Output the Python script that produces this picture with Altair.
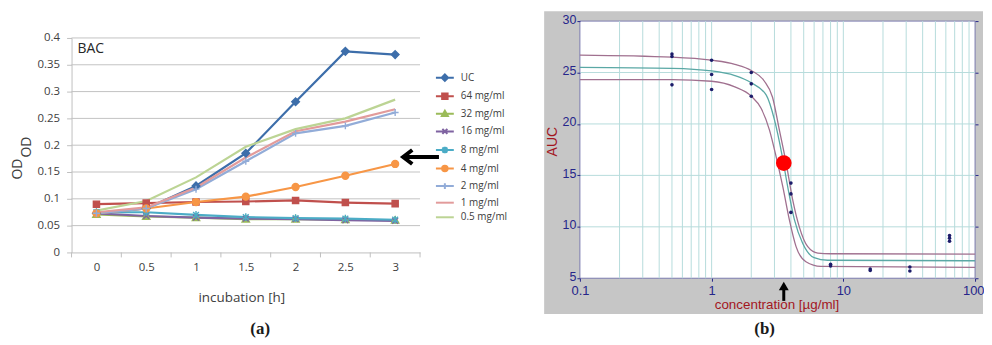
import altair as alt
import pandas as pd

# ---------------- panel (a): growth curves ----------------
hours = [0, 0.5, 1, 1.5, 2, 2.5, 3]
series_names = ["UC", "64 mg/ml", "32 mg/ml", "16 mg/ml", "8 mg/ml",
                "4 mg/ml", "2 mg/ml", "1 mg/ml", "0.5 mg/ml"]
od_uc = [0.073, 0.082, 0.124, 0.185, 0.281, 0.375, 0.369]
od_64 = [0.090, 0.092, 0.094, 0.095, 0.097, 0.093, 0.091]
od_32 = [0.071, 0.067, 0.065, 0.062, 0.062, 0.061, 0.060]
od_16 = [0.073, 0.068, 0.065, 0.063, 0.062, 0.060, 0.059]
od_8 = [0.075, 0.075, 0.070, 0.066, 0.064, 0.063, 0.061]
od_4 = [0.073, 0.082, 0.094, 0.104, 0.122, 0.143, 0.165]
od_2 = [0.073, 0.082, 0.118, 0.170, 0.222, 0.236, 0.261]
od_1 = [0.075, 0.084, 0.121, 0.177, 0.226, 0.244, 0.267]
od_05 = [0.078, 0.096, 0.140, 0.197, 0.230, 0.250, 0.285]
series_values = [od_uc, od_64, od_32, od_16, od_8, od_4, od_2, od_1, od_05]
series_colors = ["#3d6eaa", "#c0504d", "#9bbb59", "#7f63a1", "#4bacc6",
                 "#f79646", "#92acd8", "#e29b9b", "#bcd494"]
od_ticks = [0, 0.05, 0.1, 0.15, 0.2, 0.25, 0.3, 0.35, 0.4]
band_edges = [-0.25, 0.25, 0.75, 1.25, 1.75, 2.25, 2.75, 3.25]

# marker symbols (plot) and line+marker symbols (legend)
marker_paths = [
    "M0,-1L1,0L0,1L-1,0Z",
    "M-0.8,-0.8L0.8,-0.8L0.8,0.8L-0.8,0.8Z",
    "M0,-0.95L0.95,0.75L-0.95,0.75Z",
    "M-0.75,-0.75L0.75,0.75M-0.75,0.75L0.75,-0.75",
    "M-0.75,-0.75L0.75,0.75M-0.75,0.75L0.75,-0.75M0,-1L0,1",
    "M-0.9,0A0.9,0.9,0,1,1,0.9,0A0.9,0.9,0,1,1,-0.9,0Z",
    "M-0.9,0L0.9,0M0,-0.9L0,0.9",
    "M0,0",
    "M0,0",
]
stub = "M-1.8,0L1.8,0"
legend_paths = [
    stub + "M0,-0.65L0.65,0L0,0.65L-0.65,0Z",
    stub + "M-0.55,-0.55L0.55,-0.55L0.55,0.55L-0.55,0.55Z",
    stub + "M0,-0.6L0.6,0.45L-0.6,0.45Z",
    stub + "M-0.5,-0.5L0.5,0.5M-0.5,0.5L0.5,-0.5",
    stub + "M-0.5,-0.5L0.5,0.5M-0.5,0.5L0.5,-0.5M0,-0.65L0,0.65",
    stub + "M-0.55,0A0.55,0.55,0,1,1,0.55,0A0.55,0.55,0,1,1,-0.55,0Z",
    stub + "M-0.6,0L0.6,0M0,-0.6L0,0.6",
    stub,
    stub,
]

# ---------------- panel (b): dose-response ----------------
conc_upper = [0.1, 0.5, 1, 1.5, 2, 2.5, 2.9, 3.27, 3.68, 4.13, 4.63, 5.35, 6.4, 8, 100]
auc_upper = [26.7, 26.5, 26.2, 25.8, 25.2, 24.2, 22.6, 19.4, 16.2, 12.6, 10.0, 8.1, 7.45, 7.38, 7.35]
conc_mid = [0.1, 0.5, 1, 1.5, 2, 2.6, 3.0, 3.41, 3.78, 4.25, 4.91, 6.0, 7.6, 100]
auc_mid = [25.5, 25.4, 25.15, 24.7, 24.0, 22.8, 20.4, 17.1, 13.9, 10.7, 8.4, 7.0, 6.75, 6.7]
conc_low = [0.1, 0.5, 1, 1.5, 2, 2.38, 2.75, 3.09, 3.47, 3.89, 4.37, 5.2, 6.75, 100]
auc_low = [24.3, 24.3, 24.15, 23.6, 22.7, 21.5, 19.4, 16.8, 13.9, 10.7, 8.1, 6.6, 6.15, 6.05]
curve_names = ["upper", "middle", "lower"]
curve_colors = ["#a0708f", "#5aa8a5", "#a0708f"]

dot_conc = [0.5, 0.5, 0.5, 1, 1, 1, 2, 2, 2, 4, 4, 4, 8, 8, 16, 16, 32, 32, 64, 64, 64]
dot_auc = [26.8, 26.55, 23.8, 26.2, 24.8, 23.35, 25.0, 23.9, 22.7, 14.25, 13.2, 11.4,
           6.35, 6.2, 5.9, 5.75, 6.1, 5.7, 9.15, 8.9, 8.6]
ec50_conc = [3.53]
ec50_auc = [16.2]

conc_grid = [0.2, 0.3, 0.4, 0.5, 0.6, 0.7, 0.8, 0.9, 1, 2, 3, 4, 5, 6, 7, 8, 9,
             10, 20, 30, 40, 50, 60, 70, 80, 90]
auc_grid = [10, 15, 20, 25]
auc_ticks = [5, 10, 15, 20, 25, 30]
conc_ticks = [0.1, 1, 10, 100]

# ---------------- styling ----------------
W1, W2, H = 532, 442, 325
gray_txt = "#404040"
navy = "#25258a"
dark_red = "#a3161e"
grid_b = "#b6dcdc"
FONT_A = "Open Sans"
FONT_B = "Liberation Sans"

# ======== panel (a) ========
rows = []
for name, vals in zip(series_names, series_values):
    for h, v in zip(hours, vals):
        rows.append({"hour": h, "od": v, "series": name})
df_a = pd.DataFrame(rows)

xa = alt.Scale(domain=[-0.25, 3.25], range=[64, 415], nice=False, zero=False)
ya = alt.Scale(domain=[0, 0.4], range=[245, 29], nice=False, zero=False)

XA = alt.Axis(orient="bottom", offset=245 - H, values=hours, format="~g",
              grid=False, ticks=False, tickSize=0, domainColor="#bfbfbf",
              labelPadding=9, labelFont=FONT_A, labelFontSize=11.5, labelColor=gray_txt,
              title="incubation [h]", titleFont=FONT_A, titleFontSize=13.5,
              titleFontWeight="normal", titleColor=gray_txt, titleX=235, titleY=45,
              titleAlign="center", titleBaseline="middle")
YA = alt.Axis(orient="left", offset=-64, values=od_ticks, format="~g", grid=False,
              tickSize=5, tickColor="#bfbfbf", domainColor="#bfbfbf", labelPadding=7,
              labelFont=FONT_A, labelFontSize=11.5, labelColor=gray_txt, title=None)


def sc(rng):
    return alt.Scale(domain=series_names, range=rng)


grid_a = alt.Chart(pd.DataFrame({"g": od_ticks[1:]})).mark_rule(color="#c3c3c3").encode(
    y=alt.Y("g:Q", scale=ya, axis=YA),
    x=alt.XDatum(-0.25, scale=xa, axis=XA), x2=alt.X2Datum(3.25))

ticks_a = alt.Chart(pd.DataFrame({"e": band_edges})).mark_rule(color="#bfbfbf").encode(
    x=alt.X("e:Q", scale=xa, axis=XA),
    y=alt.YDatum(0, scale=ya, axis=YA), y2=alt.value(250))

lines_a = alt.Chart(df_a).mark_line(strokeWidth=2.2).encode(
    x=alt.X("hour:Q", scale=xa, axis=XA),
    y=alt.Y("od:Q", scale=ya, axis=YA),
    color=alt.Color("series:N", scale=sc(series_colors), legend=None))

points_a = alt.Chart(df_a).mark_point(filled=True, size=60, strokeWidth=1.4, opacity=1).encode(
    x=alt.X("hour:Q", scale=xa, axis=XA),
    y=alt.Y("od:Q", scale=ya, axis=YA),
    fill=alt.Fill("series:N", scale=sc(series_colors), legend=None),
    stroke=alt.Stroke("series:N", scale=sc(series_colors), legend=None),
    shape=alt.Shape("series:N", scale=sc(marker_paths), legend=None))

leg = alt.Legend(orient="none", legendX=430, legendY=63, title=None, labelFont=FONT_A,
                 labelFontSize=10, labelColor=gray_txt, symbolSize=100, symbolStrokeWidth=2,
                 rowPadding=3.7, labelOffset=10, symbolOffset=4, symbolOpacity=1)
legend_a = alt.Chart(df_a).transform_filter("false").mark_point(filled=True, opacity=1).encode(
    x=alt.X("hour:Q", scale=xa, axis=XA),
    y=alt.Y("od:Q", scale=ya, axis=YA),
    fill=alt.Fill("series:N", scale=sc(series_colors), legend=leg),
    stroke=alt.Stroke("series:N", scale=sc(series_colors), legend=leg),
    shape=alt.Shape("series:N", scale=sc(legend_paths), legend=leg))

bac = alt.Chart(pd.DataFrame({"t": ["BAC"]})).mark_text(
    align="left", baseline="middle", font=FONT_A, fontSize=14, color="#262626").encode(
    text="t:N", x=alt.XDatum(-0.19, scale=xa, axis=XA), y=alt.YDatum(0.38, scale=ya, axis=YA))

od1 = alt.Chart(pd.DataFrame({"t": ["OD"]})).mark_text(
    angle=270, align="center", baseline="middle", font=FONT_A, fontSize=14, color=gray_txt).encode(
    text="t:N", x=alt.value(10), y=alt.value(161))
od2 = alt.Chart(pd.DataFrame({"t": ["OD"]})).mark_text(
    angle=270, align="center", baseline="middle", font=FONT_A, fontSize=14, color=gray_txt).encode(
    text="t:N", x=alt.value(19), y=alt.value(139))

arrow_a_x = [3.10]
arrow_a_x2 = [3.44]
arrow_a_y = [0.178]
arrow_a_head = [3.133]
df_arrow_a = pd.DataFrame({"x": arrow_a_x, "x2": arrow_a_x2, "y": arrow_a_y, "h": arrow_a_head})
shaft_a = alt.Chart(df_arrow_a).mark_rule(strokeWidth=4, color="black").encode(
    x=alt.X("x:Q", scale=xa, axis=XA), x2="x2:Q", y=alt.Y("y:Q", scale=ya, axis=YA))
head_a = alt.Chart(df_arrow_a).mark_point(
    shape="M0.55,-1L-0.75,0L0.55,1", filled=False, size=200, strokeWidth=4,
    color="black", opacity=1).encode(
    x=alt.X("h:Q", scale=xa, axis=XA), y=alt.Y("y:Q", scale=ya, axis=YA))

lab_a = alt.Chart(pd.DataFrame({"t": ["(a)"]})).mark_text(
    font="Liberation Serif", fontSize=17, fontWeight="bold", color="#1a1a1a",
    align="center", baseline="middle").encode(text="t:N", x=alt.value(254), y=alt.value(322))

left = alt.layer(grid_a, ticks_a, lines_a, points_a, legend_a, bac, od1, od2,
                 shaft_a, head_a, lab_a).resolve_scale(
    shape="independent", fill="independent", stroke="independent").properties(width=W1, height=H)

# ======== panel (b) ========
xb = alt.Scale(type="log", domain=[0.1, 100], range=[36, 434], nice=False)
yb = alt.Scale(domain=[5, 30], range=[271, 12], nice=False, zero=False)

crow = []
for nm, cs, vs in zip(curve_names, [conc_upper, conc_mid, conc_low], [auc_upper, auc_mid, auc_low]):
    for c, v in zip(cs, vs):
        crow.append({"conc": c, "auc": v, "curve": nm})
df_curves = pd.DataFrame(crow)
df_dots = pd.DataFrame({"conc": dot_conc, "auc": dot_auc})
df_ec50 = pd.DataFrame({"conc": ec50_conc, "auc": ec50_auc})

XB = alt.Axis(orient="bottom", offset=271 - H, values=conc_ticks, format="~g", grid=False,
              domain=False, tickSize=3, tickColor=navy, labelFont=FONT_B, labelFontSize=13,
              labelColor=navy, labelPadding=3, labelFlush=True, labelFlushOffset=9,
              title="concentration [µg/ml]", titleFont=FONT_B, titleFontSize=13.5,
              titleFontWeight="normal", titleColor=dark_red, titleX=234, titleY=26,
              titleAlign="center", titleBaseline="middle", zindex=2)
YB = alt.Axis(orient="left", offset=-36, values=auc_ticks, grid=False, domain=False,
              tickSize=3, tickColor=navy, labelFont=FONT_B, labelFontSize=12.5,
              labelColor=navy, labelPadding=1, labelOffset=-2, title="AUC", titleFont=FONT_B,
              titleFontSize=14, titleFontWeight="normal", titleColor=dark_red,
              titleAngle=270, titleX=-28, titleY=133, titleAlign="center",
              titleBaseline="middle", zindex=2)
YB_right = alt.Axis(orient="right", offset=434 - W2, values=auc_ticks, grid=False,
                    domain=False, labels=False, tickSize=3, tickColor=navy, title=None,
                    zindex=2)

one = pd.DataFrame({"a": [0]})
panel_b = alt.Chart(one).mark_rect(color="#c6c6c6").encode(
    x=alt.value(0), x2=alt.value(W2), y=alt.value(2), y2=alt.value(307))
plot_bg = alt.Chart(one).mark_rect(fill="white", stroke="#7a7aae", strokeWidth=1).encode(
    x=alt.XDatum(0.1, scale=xb, axis=XB), x2=alt.X2Datum(100),
    y=alt.YDatum(5, scale=yb, axis=None), y2=alt.Y2Datum(30))
vgrid = alt.Chart(pd.DataFrame({"g": conc_grid})).mark_rule(color=grid_b).encode(
    x=alt.X("g:Q", scale=xb, axis=XB),
    y=alt.YDatum(5, scale=yb, axis=None), y2=alt.Y2Datum(30))
hgrid = alt.Chart(pd.DataFrame({"g": auc_grid})).mark_rule(color=grid_b).encode(
    y=alt.Y("g:Q", scale=yb, axis=YB_right),
    x=alt.XDatum(0.1, scale=xb, axis=XB), x2=alt.X2Datum(100))
curves = alt.Chart(df_curves).mark_line(interpolate="monotone", strokeWidth=1.3).encode(
    x=alt.X("conc:Q", scale=xb, axis=XB),
    y=alt.Y("auc:Q", scale=yb, axis=None),
    detail="curve:N",
    color=alt.Color("curve:N", scale=alt.Scale(domain=curve_names, range=curve_colors), legend=None))
dots = alt.Chart(df_dots).mark_circle(size=13, color="#1c1c6a", opacity=1).encode(
    x=alt.X("conc:Q", scale=xb, axis=XB),
    y=alt.Y("auc:Q", scale=yb, axis=YB))
ec50 = alt.Chart(df_ec50).mark_circle(size=250, color="#ff0000", opacity=1).encode(
    x=alt.X("conc:Q", scale=xb, axis=XB), y=alt.Y("auc:Q", scale=yb, axis=None))

arrow_b_y = [2.8]
arrow_b_y2 = [4.3]
arrow_b_head = [4.25]
df_arrow_b = pd.DataFrame({"conc": ec50_conc, "y": arrow_b_y, "y2": arrow_b_y2, "h": arrow_b_head})
shaft_b = alt.Chart(df_arrow_b).mark_rule(strokeWidth=3, color="black").encode(
    x=alt.X("conc:Q", scale=xb, axis=XB), y=alt.Y("y:Q", scale=yb, axis=None), y2="y2:Q")
head_b = alt.Chart(df_arrow_b).mark_point(shape="triangle-up", filled=True, size=100,
                                          color="black", opacity=1).encode(
    x=alt.X("conc:Q", scale=xb, axis=XB), y=alt.Y("h:Q", scale=yb, axis=None))

lab_b = alt.Chart(pd.DataFrame({"t": ["(b)"]})).mark_text(
    font="Liberation Serif", fontSize=17, fontWeight="bold", color="#1a1a1a",
    align="center", baseline="middle").encode(text="t:N", x=alt.value(222), y=alt.value(322))

right = alt.layer(panel_b, plot_bg, vgrid, hgrid, curves, dots, ec50, shaft_b, head_b,
                  lab_b).resolve_axis(y="independent").properties(width=W2, height=H)

chart = alt.hconcat(left, right, spacing=8).resolve_scale(
    color="independent").properties(padding=0).configure_view(strokeWidth=0)
chart.save("out.html", embed_options={"renderer": "svg", "actions": False})
